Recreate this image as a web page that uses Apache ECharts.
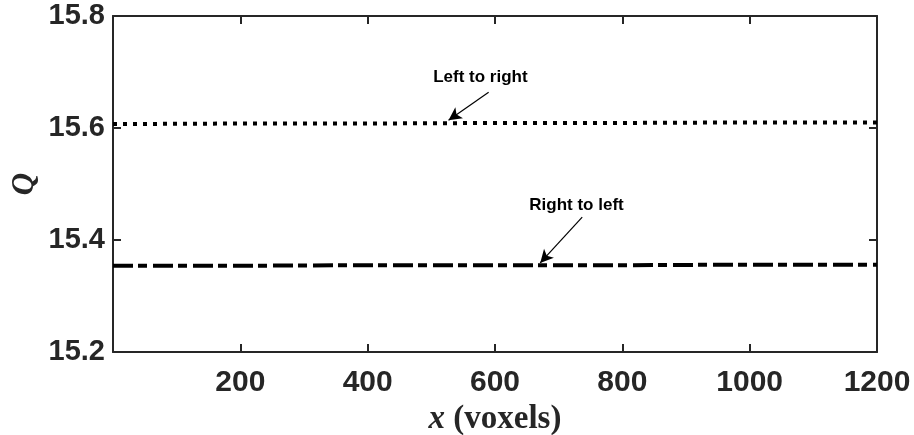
<!DOCTYPE html>
<html>
<head>
<meta charset="utf-8">
<script src="https://cdn.jsdelivr.net/npm/echarts@6/dist/echarts.min.js"></script>
<style>
  html, body { margin: 0; padding: 0; background: #fff; }
  #main { width: 914px; height: 435px; }
</style>
</head>
<body>
<div id="main"></div>
<script>
// data
const xValues = [0, 200, 400, 600, 800, 1000, 1200];
const leftToRight = [15.607, 15.608, 15.608, 15.609, 15.609, 15.610, 15.610];
const rightToLeft = [15.354, 15.354, 15.355, 15.355, 15.355, 15.356, 15.356];
const yTicks = [15.2, 15.4, 15.6, 15.8];
// annotation: [textX, textY, arrowFromX, arrowFromY, arrowToX, arrowToY]
const noteLeft = [577, 15.691, 590, 15.664, 527, 15.614];
const noteRight = [728, 15.4625, 737, 15.441, 671, 15.359];

const axisColor = "#262626";
const tickFont = {
  color: axisColor,
  fontFamily: "Liberation Sans",
  fontWeight: "bold",
};

function pairs(ys) {
  return xValues.map((x, i) => [x, ys[i]]);
}

function note(text, n) {
  return {
    markPoint: {
      symbol: "rect",
      symbolSize: 1,
      itemStyle: { color: "rgba(0,0,0,0)" },
      label: {
        show: true,
        position: "inside",
        formatter: text,
        color: "#000",
        fontFamily: "Liberation Sans",
        fontWeight: "bold",
        fontSize: 17,
      },
      data: [{ coord: [n[0], n[1]] }],
    },
    markLine: {
      silent: true,
      animation: false,
      symbol: ["none", "arrow"],
      symbolSize: [10, 13],
      lineStyle: { color: "#000", width: 1.2, type: "solid" },
      label: { show: false },
      data: [[{ coord: [n[2], n[3]] }, { coord: [n[4], n[5]] }]],
    },
  };
}

let chart = echarts.init(document.getElementById("main"));
let option = {
  animation: false,
  grid: { left: 113, right: 37, top: 16, bottom: 83, outerBoundsMode: "none", containLabel: false },
  xAxis: [
    {
      type: "value",
      min: 0,
      max: 1200,
      interval: 200,
      name: "{i|x} (voxels)",
      nameLocation: "middle",
      nameGap: 48,
      nameTextStyle: {
        color: axisColor,
        fontFamily: "Liberation Serif",
        fontWeight: "bold",
        fontSize: 33,
        rich: {
          i: {
            fontFamily: "Liberation Serif",
            fontStyle: "italic",
            fontWeight: "bold",
            fontSize: 33,
            color: axisColor,
          },
        },
      },
      axisLine: { show: true, onZero: false, lineStyle: { color: axisColor, width: 2 } },
      axisTick: { inside: true, length: 8, lineStyle: { color: axisColor, width: 2 } },
      axisLabel: Object.assign({}, tickFont, {
        fontSize: 30,
        margin: 16,
        formatter: (v) => (v === 0 ? "" : String(v)),
      }),
      splitLine: { show: false },
    },
    {
      type: "value",
      position: "top",
      min: 0,
      max: 1200,
      interval: 200,
      axisLine: { show: true, onZero: false, lineStyle: { color: axisColor, width: 2 } },
      axisTick: { inside: true, length: 8, lineStyle: { color: axisColor, width: 2 } },
      axisLabel: { show: false },
      splitLine: { show: false },
    },
  ],
  yAxis: [
    {
      type: "value",
      min: yTicks[0],
      max: yTicks[yTicks.length - 1],
      interval: 0.2,
      name: "Q",
      nameLocation: "middle",
      nameRotate: 90,
      nameGap: 73,
      nameMoveOverlap: false,
      nameTextStyle: {
        color: axisColor,
        fontFamily: "Liberation Serif",
        fontStyle: "italic",
        fontWeight: "bold",
        fontSize: 31,
      },
      axisLine: { show: true, onZero: false, lineStyle: { color: axisColor, width: 2 } },
      axisTick: { inside: true, length: 8, lineStyle: { color: axisColor, width: 2 } },
      axisLabel: Object.assign({}, tickFont, {
        fontSize: 29,
        margin: 8,
        formatter: (v) => v.toFixed(1),
      }),
      splitLine: { show: false },
    },
    {
      type: "value",
      position: "right",
      min: yTicks[0],
      max: yTicks[yTicks.length - 1],
      interval: 0.2,
      axisLine: { show: true, onZero: false, lineStyle: { color: axisColor, width: 2 } },
      axisTick: { inside: true, length: 8, lineStyle: { color: axisColor, width: 2 } },
      axisLabel: { show: false },
      splitLine: { show: false },
    },
  ],
  series: [
    Object.assign(
      {
        name: "Left to right",
        type: "line",
        data: pairs(leftToRight),
        showSymbol: false,
        lineStyle: { color: "#000", width: 4, type: [4, 6], cap: "butt" },
      },
      note("Left to right", noteLeft)
    ),
    Object.assign(
      {
        name: "Right to left",
        type: "line",
        data: pairs(rightToLeft),
        showSymbol: false,
        lineStyle: { color: "#000", width: 4, type: [20, 5, 9, 6], cap: "butt" },
      },
      note("Right to left", noteRight)
    ),
  ],
};
chart.setOption(option);
</script>
</body>
</html>
